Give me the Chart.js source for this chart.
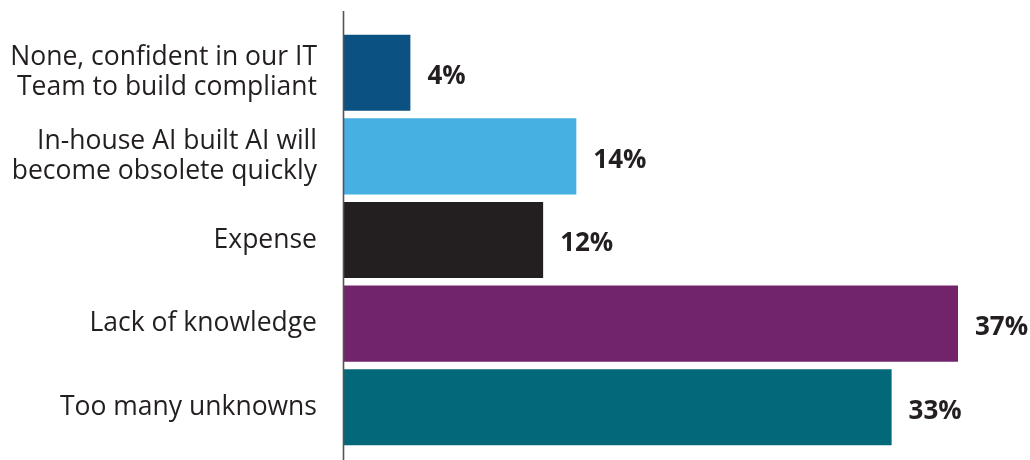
<!DOCTYPE html>
<html>
<head>
<meta charset="utf-8">
<script src="https://cdn.jsdelivr.net/npm/chart.js@4"></script>
<style>
  html, body { margin: 0; padding: 0; background: #fff; }
  #wrap { width: 1030px; height: 460px; }
</style>
</head>
<body>
<div id="wrap"><canvas id="barChart"></canvas></div>
<script>
var categories = [
  ['None, confident in our IT', 'Team to build compliant'],
  ['In-house AI built AI will', 'become obsolete quickly'],
  'Expense',
  'Lack of knowledge',
  'Too many unknowns'
];
var percents = [4, 14, 12, 37, 33];
var barColors = ['#0b5182', '#46b0e3', '#231f20', '#72246b', '#03687a'];

// value labels at the end of each bar
var valueLabels = {
  id: 'valueLabels',
  afterDatasetsDraw: function(chart) {
    var ctx = chart.ctx;
    var meta = chart.getDatasetMeta(0);
    ctx.save();
    ctx.font = 'bold 26px "Open Sans"';
    ctx.fillStyle = '#231f20';
    ctx.textAlign = 'left';
    ctx.textBaseline = 'middle';
    meta.data.forEach(function(bar, i) {
      ctx.fillText(percents[i] + '%', bar.x + 17, bar.y + 4);
    });
    ctx.restore();
  }
};

// vertical axis line, runs past the bars top and bottom
var axisLine = {
  id: 'axisLine',
  afterDraw: function(chart) {
    var ctx = chart.ctx;
    var x = chart.chartArea.left - 0.5;
    ctx.save();
    ctx.strokeStyle = '#555555';
    ctx.lineWidth = 1.6;
    ctx.beginPath();
    ctx.moveTo(x, 11);
    ctx.lineTo(x, 460);
    ctx.stroke();
    ctx.restore();
  }
};

var ctx = document.getElementById('barChart');
new Chart(ctx, {
  type: 'bar',
  data: {
    labels: categories,
    datasets: [{
      data: percents,
      backgroundColor: barColors,
      borderWidth: 0,
      barPercentage: 0.91,
      categoryPercentage: 1.0
    }]
  },
  options: {
    indexAxis: 'y',
    responsive: true,
    maintainAspectRatio: false,
    animation: false,
    layout: { padding: { top: 31, bottom: 11, left: 0, right: 72 } },
    plugins: {
      legend: { display: false },
      tooltip: { enabled: false }
    },
    scales: {
      x: {
        display: false,
        min: 0,
        max: 37
      },
      y: {
        grid: { display: false, drawTicks: false },
        border: { display: false },
        afterFit: function(scale) {
          scale.width = 344;
          scale.paddingTop = 0;
          scale.paddingBottom = 0;
        },
        ticks: {
          padding: 27,
          color: '#231f20',
          font: { family: '"Open Sans"', size: 26.5, lineHeight: 1.13 }
        }
      }
    }
  },
  plugins: [valueLabels, axisLine]
});
</script>
</body>
</html>
